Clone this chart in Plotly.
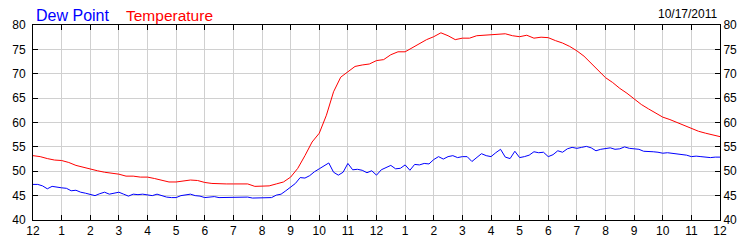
import numpy as np
import plotly.graph_objects as go

# Temperature, 15-minute readings from 12 AM to 12 AM (next day)
temperature = [
    53.2, 53.0, 52.6, 52.3,
    52.2, 51.8, 51.2, 50.8,
    50.4, 50.1, 49.8, 49.6,
    49.4, 49.0, 49.0, 48.8,
    48.8, 48.5, 48.2, 47.8,
    47.8, 48.0, 48.2, 48.1,
    47.7, 47.5, 47.4, 47.4,
    47.4, 47.4, 47.4, 46.9,
    47.0, 47.0, 47.4, 47.8,
    48.8, 50.6, 53.2, 56.0,
    57.8, 61.5, 66.3, 69.3,
    70.4, 71.5, 71.8, 72.0,
    72.7, 72.9, 73.9, 74.5,
    74.5, 75.3, 76.1, 77.0,
    77.6, 78.4, 77.8, 77.0,
    77.3, 77.3, 77.8, 77.9,
    78.0, 78.1, 78.2, 77.8,
    77.6, 77.9, 77.3, 77.5,
    77.4, 76.8, 76.3, 75.6,
    74.7, 73.6, 72.2, 70.7,
    69.2, 68.2, 67.0, 66.0,
    64.8, 63.7, 62.8, 62.0,
    61.1, 60.6, 60.0, 59.4,
    58.7, 58.2, 57.8, 57.4,
    57.1,
]

# Dew point, 10-minute readings
dew_point = [
    47.3, 47.3, 47.0, 46.4, 46.9, 46.7,
    46.6, 46.5, 46.0, 46.1, 45.7, 45.5,
    45.3, 45.0, 45.4, 45.7, 45.3, 45.5,
    45.7, 45.3, 44.9, 45.3, 45.2, 45.3,
    45.2, 45.0, 45.3, 45.0, 44.7, 44.6,
    44.6, 45.0, 45.2, 45.3, 45.0, 44.9,
    44.6, 44.7, 44.8, 44.6, 44.6, 44.7,
    44.7, 44.7, 44.7, 44.7, 44.5, 44.5,
    44.5, 44.5, 44.6, 45.1, 45.3, 46.0,
    46.7, 47.5, 48.7, 48.6, 49.1, 49.9,
    50.5, 51.1, 51.7, 49.8, 49.2, 49.8,
    51.6, 50.3, 50.4, 50.2, 49.7, 50.1,
    49.2, 50.3, 50.8, 51.2, 50.5, 50.6,
    51.3, 50.2, 51.4, 51.3, 51.6, 51.5,
    52.4, 53.0, 52.5, 53.0, 53.2, 52.8,
    53.0, 53.0, 52.0, 52.9, 53.6, 53.2,
    53.0, 53.8, 54.5, 52.9, 52.6, 54.1,
    52.8, 53.0, 53.3, 54.0, 53.8, 53.9,
    53.0, 53.4, 54.2, 53.9, 54.6, 54.9,
    54.7, 54.9, 55.1, 54.8, 54.2, 54.5,
    54.6, 54.8, 54.5, 54.6, 55.0, 54.7,
    54.6, 54.5, 54.1, 54.1, 54.0, 53.9,
    53.7, 53.8, 53.7, 53.6, 53.4, 53.3,
    53.0, 53.1, 53.0, 52.9, 52.8, 52.9,
    52.9,
]

hour_ticks = list(range(0, 25))
hour_labels = ["12", "1", "2", "3", "4", "5", "6", "7", "8", "9", "10", "11",
               "12", "1", "2", "3", "4", "5", "6", "7", "8", "9", "10", "11", "12"]
y_ticks = [40, 45, 50, 55, 60, 65, 70, 75, 80]
date_label = "10/17/2011"

temp_hours = np.linspace(0, 24, len(temperature))
dew_hours = np.linspace(0, 24, len(dew_point))

FONT = "Liberation Sans, Arial, sans-serif"

fig = go.Figure()
fig.add_trace(go.Scatter(x=dew_hours, y=dew_point, mode="lines",
                         line=dict(color="#0000ff", width=1), name="Dew Point",
                         hoverinfo="skip"))
fig.add_trace(go.Scatter(x=temp_hours, y=temperature, mode="lines",
                         line=dict(color="#ff0000", width=1), name="Temperature",
                         yaxis="y2", hoverinfo="skip"))

axis_common = dict(
    showgrid=True, gridcolor="#d0d0d0", gridwidth=1,
    showline=True, linecolor="black", linewidth=1,
    ticks="inside", ticklen=5, tickcolor="black", tickwidth=1,
    tickfont=dict(family=FONT, size=12, color="black"),
    zeroline=False,
)

fig.update_layout(
    width=750, height=250,
    margin=dict(l=31, r=30, t=25, b=25),
    paper_bgcolor="white", plot_bgcolor="white",
    showlegend=False,
    xaxis=dict(range=[0, 24], tickmode="array", tickvals=hour_ticks,
               ticktext=hour_labels, mirror="ticks", **axis_common),
    yaxis=dict(range=[40, 80], tickmode="array", tickvals=y_ticks,
               mirror="ticks", ticklabelstandoff=4, **axis_common),
    yaxis2=dict(range=[40, 80], tickmode="array", tickvals=y_ticks,
                overlaying="y", side="right",
                **{**axis_common, "showgrid": False}),
    annotations=[
        dict(text="Dew Point", x=32, y=4, xref="paper", yref="paper",
             xanchor="left", yanchor="top", showarrow=False,
             font=dict(family=FONT, size=16, color="#0000ff")),
        dict(text="Temperature", x=122, y=4, xref="paper", yref="paper",
             xanchor="left", yanchor="top", showarrow=False,
             font=dict(family=FONT, size=15.5, color="#ff0000")),
        dict(text=date_label, x=719, y=5, xref="paper", yref="paper",
             xanchor="right", yanchor="top", showarrow=False,
             font=dict(family=FONT, size=12, color="black")),
    ],
)

# Convert pixel-based annotation positions to paper coordinates
plot_w = 750 - 31 - 30
plot_h = 250 - 25 - 25
for ann in fig.layout.annotations:
    px, py = ann.x, ann.y
    ann.x = (px - 31) / plot_w
    ann.y = 1 + (25 - py) / plot_h

fig.write_html("out.html")
